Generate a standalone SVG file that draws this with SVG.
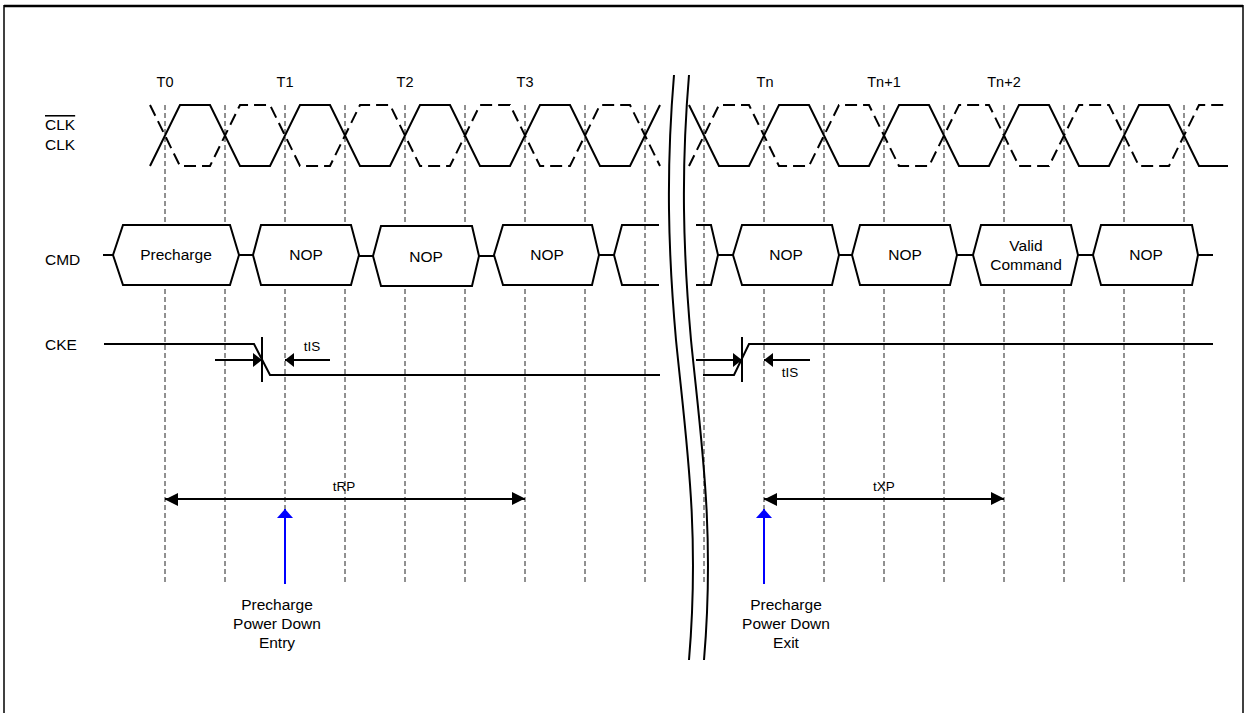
<svg xmlns="http://www.w3.org/2000/svg" width="1247" height="713" viewBox="0 0 1247 713">
<style>
text{font-family:"Liberation Sans",Arial,sans-serif;fill:#000}
.lbl{font-size:15.5px}
.sm{font-size:13.5px}
.tk{font-size:14.5px;text-anchor:middle}
.c{text-anchor:middle}
.grid{stroke:#222;stroke-width:1;stroke-dasharray:5,3;fill:none}
.sig{stroke:#000;stroke-width:2;fill:none;stroke-linejoin:miter}
.dsig{stroke:#000;stroke-width:2;fill:none;stroke-dasharray:12,6}
.box{stroke:#000;stroke-width:2;fill:#fff}
.brk{stroke:#000;stroke-width:2;fill:none}
</style>
<defs>
<marker id="ah" markerUnits="userSpaceOnUse" markerWidth="10" markerHeight="14" refX="9" refY="7" orient="auto"><path d="M0,0 L9,7 L0,14 z" fill="#000"/></marker>
<marker id="ahL" markerUnits="userSpaceOnUse" markerWidth="14" markerHeight="14" refX="13" refY="7" orient="auto-start-reverse"><path d="M0,0 L13,6.5 L0,13 z" fill="#000"/></marker>
<marker id="ahB" markerUnits="userSpaceOnUse" markerWidth="10" markerHeight="16" refX="9" refY="8" orient="auto"><path d="M0,0 L9,8 L0,16 z" fill="#0000ff"/></marker>
</defs>
<rect width="1247" height="713" fill="#fff"/>
<g id="frame">
<line x1="4" y1="6" x2="1243" y2="6" stroke="#000" stroke-width="2.5"/>
<line x1="4" y1="5" x2="4" y2="713" stroke="#000" stroke-width="1.5"/>
<line x1="1243" y1="5" x2="1243" y2="713" stroke="#000" stroke-width="1.5"/>
</g>
<g id="grid">
<path class="grid" d="M165,105V584M225,105V584M285,105V509M345,105V584M405,105V584M465,105V584M525,105V584M585,105V584M645,105V584M704,105V584M764,105V509M824,105V584M884,105V584M944,105V584M1004,105V584M1064,105V584M1124,105V584M1184,105V584"/>
</g>
<g id="tick-labels">
<text class="tk" x="165" y="87">T0</text>
<text class="tk" x="285" y="87">T1</text>
<text class="tk" x="405" y="87">T2</text>
<text class="tk" x="525" y="87">T3</text>
<text class="tk" x="765" y="87">Tn</text>
<text class="tk" x="884" y="87">Tn+1</text>
<text class="tk" x="1004" y="87">Tn+2</text>
</g>
<g id="signal-labels">
<text class="lbl" x="45" y="130" style="text-decoration:overline">CLK</text>
<text class="lbl" x="45" y="150">CLK</text>
<text class="lbl" x="45" y="265">CMD</text>
<text class="lbl" x="45" y="350">CKE</text>
</g>
<g id="clk">
<path class="sig" d="M150,166 L180,105 L210,105 L240,166 L270,166 L300,105 L330,105 L360,166 L390,166 L420,105 L450,105 L480,166 L510,166 L540,105 L570,105 L600,166 L630,166 L660,105"/>
<path class="dsig" d="M150,105 L180,166 L210,166 L240,105 L270,105 L300,166 L330,166 L360,105 L390,105 L420,166 L450,166 L480,105 L510,105 L540,166 L570,166 L600,105 L630,105 L660,166"/>
<path class="sig" d="M689,105 L719,166 L749,166 L779,105 L809,105 L839,166 L869,166 L899,105 L929,105 L959,166 L989,166 L1019,105 L1049,105 L1079,166 L1109,166 L1139,105 L1169,105 L1199,166 L1228,166"/>
<path class="dsig" d="M689,166 L719,105 L749,105 L779,166 L809,166 L839,105 L869,105 L899,166 L929,166 L959,105 L989,105 L1019,166 L1049,166 L1079,105 L1109,105 L1139,166 L1169,166 L1199,105 L1228,105"/>
</g>
<g id="cmd-bus">
<path class="sig" d="M103,255H113M239,255H253M359,256H373M479,256H494M599,255H614M718,255H733M839,255H852M957,255H973M1078,255H1093M1198,255H1213"/>
<path class="sig" d="M659,225 L622,225 L614,255 L622,285 L659,285"/>
<path class="sig" d="M696,225 L711,225 L718,255 L711,285 L696,285"/>
</g>
<g id="cmd-precharge"><polygon class="box" points="113,255 123,225 230,225 239,255 230,285 123,285"/><text class="lbl c" x="176" y="260">Precharge</text></g>
<g id="cmd-nop1"><polygon class="box" points="253,255 261,225 351,225 359,255 351,285 261,285"/><text class="lbl c" x="306" y="260">NOP</text></g>
<g id="cmd-nop2"><polygon class="box" points="373,256 381,226 472,226 479,256 472,286 381,286"/><text class="lbl c" x="426" y="262">NOP</text></g>
<g id="cmd-nop3"><polygon class="box" points="494,255 503,225 592,225 599,255 592,285 503,285"/><text class="lbl c" x="547" y="260">NOP</text></g>
<g id="cmd-nop4"><polygon class="box" points="733,255 742,225 832,225 839,255 832,285 742,285"/><text class="lbl c" x="786" y="260">NOP</text></g>
<g id="cmd-nop5"><polygon class="box" points="852,255 860,225 950,225 957,255 950,285 860,285"/><text class="lbl c" x="905" y="260">NOP</text></g>
<g id="cmd-valid"><polygon class="box" points="973,255 981,225 1071,225 1078,255 1071,285 981,285"/><text class="lbl c" x="1026" y="251">Valid</text><text class="lbl c" x="1026" y="270">Command</text></g>
<g id="cmd-nop6"><polygon class="box" points="1093,255 1101,225 1192,225 1198,255 1192,285 1101,285"/><text class="lbl c" x="1146" y="260">NOP</text></g>
<g id="cke">
<path class="sig" d="M104,344 L254,344 L270,375 L660,375"/>
<path class="sig" d="M703,375 L734,375 L749,344 L1213,344"/>
<path class="sig" d="M262,337V382M742,337V382"/>
</g>
<g id="connectors">
<line class="sig" x1="215" y1="360" x2="262" y2="360" marker-end="url(#ah)"/>
<line class="sig" x1="330" y1="360" x2="285" y2="360" marker-end="url(#ah)"/>
<line class="sig" x1="696" y1="360" x2="742" y2="360" marker-end="url(#ah)"/>
<line class="sig" x1="810" y1="360" x2="764" y2="360" marker-end="url(#ah)"/>
<line class="sig" x1="165" y1="499" x2="525" y2="499" marker-start="url(#ahL)" marker-end="url(#ahL)"/>
<line class="sig" x1="764" y1="499" x2="1004" y2="499" marker-start="url(#ahL)" marker-end="url(#ahL)"/>
<line x1="285" y1="584" x2="285" y2="509" stroke="#0000ff" stroke-width="2" marker-end="url(#ahB)"/>
<line x1="764" y1="584" x2="764" y2="509" stroke="#0000ff" stroke-width="2" marker-end="url(#ahB)"/>
</g>
<g id="timing-labels">
<text class="sm c" x="312" y="351">tIS</text>
<text class="sm c" x="790" y="377">tIS</text>
<text class="sm c" x="344" y="491">tRP</text>
<text class="sm c" x="884" y="491">tXP</text>
</g>
<g id="entry-label"><text class="lbl c" x="277" y="610">Precharge</text><text class="lbl c" x="277" y="629">Power Down</text><text class="lbl c" x="277" y="648">Entry</text></g>
<g id="exit-label"><text class="lbl c" x="786" y="610">Precharge</text><text class="lbl c" x="786" y="629">Power Down</text><text class="lbl c" x="786" y="648">Exit</text></g>
<g id="break">
<path class="brk" d="M674,75 C666,170 668,250 676,340 C686,440 700,530 689,660"/>
<path class="brk" d="M689,75 C681,170 683,250 691,340 C701,440 715,530 704,660"/>
</g>
</svg>
